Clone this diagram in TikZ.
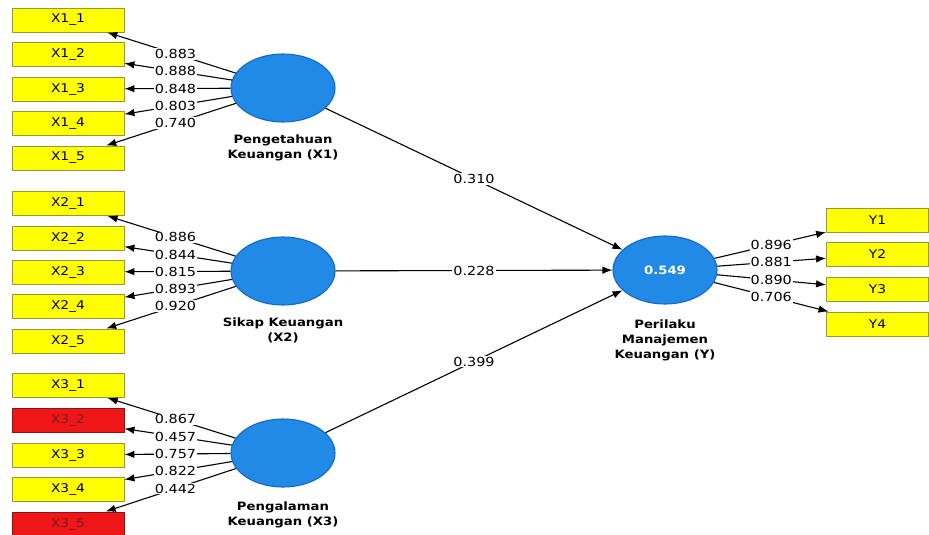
\documentclass[tikz,border=0pt]{standalone}
\usepackage{fontspec}
\setmainfont{DejaVu Sans}[FakeStretch=1.15]
\usetikzlibrary{arrows.meta,shapes.geometric,calc}
\definecolor{lvblue}{RGB}{33,137,230}
\definecolor{lvborder}{RGB}{22,104,196}
\definecolor{indyellow}{RGB}{255,255,0}
\definecolor{yborder}{RGB}{150,150,60}
\definecolor{indred}{RGB}{238,22,22}
\definecolor{rborder}{RGB}{140,20,20}
\definecolor{rtext}{RGB}{120,30,30}
\begin{document}
\begin{tikzpicture}[x=1pt,y=-1pt,
  ind/.style={draw=yborder, fill=indyellow, line width=0.9pt, minimum width=112pt, minimum height=24pt, inner sep=0pt, font=\fontsize{12}{14}\selectfont},
  indy/.style={ind, minimum width=102pt},
  indbad/.style={ind, draw=rborder, fill=indred, text=rtext},
  lv/.style={ellipse, draw=lvborder, fill=lvblue, line width=1.1pt, minimum width=104pt, minimum height=68pt, inner sep=0pt},
  lvname/.style={font=\fontsize{11.5}{15}\selectfont\bfseries, align=center},
  coef/.style={fill=white, inner sep=1pt, font=\fontsize{12.5}{14}\selectfont},
  link/.style={line width=1.1pt, -{Latex[length=10pt,width=7.5pt]}}]
\fill[white] (0,0) rectangle (929,535);
\useasboundingbox (0,0) rectangle (929,535);

% latent variables
\node[lv] (lx1) at (283,88) {};
\node[lv] (lx2) at (283,271) {};
\node[lv] (lx3) at (283,453) {};
\node[lv, font=\fontsize{11.5}{14}\selectfont\bfseries, text=white] (ly) at (665,270) {0.549};

\node[lvname] (nx1) at (283,147.5) {Pengetahuan\\Keuangan (X1)};
\node[lvname] (nx2) at (283,330.5) {Sikap Keuangan\\(X2)};
\node[lvname] (nx3) at (283,515) {Pengalaman\\Keuangan (X3)};
\node[lvname] (ny) at (665,340.5) {Perilaku\\Manajemen\\Keuangan (Y)};

% indicators X1
\foreach \i/\yy in {1/20,2/54.5,3/89,4/123.5,5/158}
  \node[ind] (x1\i) at (68,\yy) {X1\_\i};
% indicators X2
\foreach \i/\yy in {1/203.5,2/238,3/272,4/306.5,5/341}
  \node[ind] (x2\i) at (68,\yy) {X2\_\i};
% indicators X3
\node[ind] (x31) at (68,385.5) {X3\_1};
\node[indbad] (x32) at (68,420) {X3\_2};
\node[ind] (x33) at (68,455) {X3\_3};
\node[ind] (x34) at (68,489) {X3\_4};
\node[indbad] (x35) at (68,524) {X3\_5};
% indicators Y
\foreach \i/\yy in {1/220,2/254.5,3/289.5,4/324}
  \node[indy] (y\i) at (877.5,\yy) {Y\i};

% outer loadings
\foreach \i/\v in {1/0.883,2/0.888,3/0.848,4/0.803,5/0.740}{
  \draw[link] (lx1) -- (x1\i);
  \node[coef] at ($(lx1.center)!0.5!(x1\i.center)$) {\v};
}
\foreach \i/\v in {1/0.886,2/0.844,3/0.815,4/0.893,5/0.920}{
  \draw[link] (lx2) -- (x2\i);
  \node[coef] at ($(lx2.center)!0.5!(x2\i.center)$) {\v};
}
\foreach \i/\v in {1/0.867,2/0.457,3/0.757,4/0.822,5/0.442}{
  \draw[link] (lx3) -- (x3\i);
  \node[coef] at ($(lx3.center)!0.5!(x3\i.center)$) {\v};
}
\foreach \i/\v in {1/0.896,2/0.881,3/0.890,4/0.706}{
  \draw[link] (ly) -- (y\i);
  \node[coef] at ($(ly.center)!0.5!(y\i.center)$) {\v};
}

% path coefficients
\draw[link] (lx1) -- (ly);
\node[coef] at ($(lx1.center)!0.5!(ly.center)$) {0.310};
\draw[link] (lx2) -- (ly);
\node[coef] at ($(lx2.center)!0.5!(ly.center)$) {0.228};
\draw[link] (lx3) -- (ly);
\node[coef] at ($(lx3.center)!0.5!(ly.center)$) {0.399};
\end{tikzpicture}
\end{document}
